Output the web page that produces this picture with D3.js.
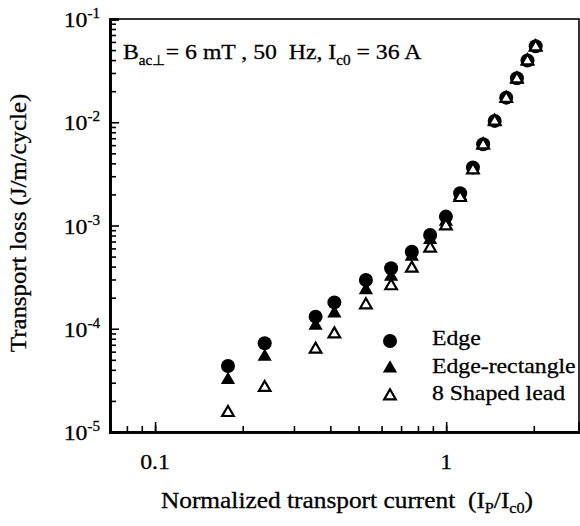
<!DOCTYPE html>
<html>
<head>
<meta charset="utf-8">
<script src="https://d3js.org/d3.v7.min.js"></script>
<style>
  body { margin: 0; background: #fff; }
  svg { display: block; }
  text { font-family: "Liberation Serif", "Times New Roman", serif; fill: #000; stroke: #000; stroke-width: 0.3px; }
</style>
</head>
<body>
<svg></svg>
<script>
let width = 580, height = 526;

// normalized transport current Ip/Ic0
let current = [0.178, 0.238, 0.356, 0.413, 0.530, 0.647, 0.762, 0.881, 0.998,
               1.117, 1.236, 1.340, 1.468, 1.608, 1.750, 1.903, 2.03];
// transport loss (J/m/cycle)
let edge = [4.36e-5, 7.23e-5, 1.31e-4, 1.80e-4, 2.97e-4, 3.85e-4, 5.57e-4, 8.09e-4, 1.22e-3,
            2.05e-3, 3.65e-3, 6.13e-3, 1.03e-2, 1.73e-2, 2.67e-2, 3.96e-2, 5.44e-2];
let edgeRect = [3.19e-5, 5.36e-5, 1.07e-4, 1.41e-4, 2.37e-4, 3.19e-4, 4.99e-4, 7.24e-4, 1.09e-3,
                1.94e-3, 3.45e-3, 5.96e-3, 1.00e-2, 1.68e-2, 2.59e-2, 3.88e-2, 5.30e-2];
let shaped8 = [1.54e-5, 2.69e-5, 6.32e-5, 8.89e-5, 1.70e-4, 2.60e-4, 3.85e-4, 6.02e-4, 9.89e-4,
               1.86e-3, 3.45e-3, 6.02e-3, 1.02e-2, 1.70e-2, 2.62e-2, 3.92e-2, 5.36e-2];

let seriesNames = ["Edge", "Edge-rectangle", "8 Shaped lead"];
let xTicks = [0.08, 0.09, 0.1, 0.2, 0.3, 0.4, 0.5, 0.6, 0.7, 0.8, 0.9, 1, 2];
let xTickLabels = ["0.1", "1"];
let yExponents = [-5, -4, -3, -2, -1];

let x = d3.scaleLog().domain([0.07, 2.86]).range([110, 579]);
let y = d3.scaleLog().domain([1e-5, 1e-1]).range([432, 19]);

let svg = d3.select("svg")
  .attr("width", width)
  .attr("height", height);

// text is a bit wider than the font in the scanned figure
let sx = 1.08;
function label(px, py, anchor, size) {
  return svg.append("text")
    .attr("transform", `translate(${px},${py}) scale(${sx},1)`)
    .attr("text-anchor", anchor)
    .style("font-size", size + "px");
}

//frame
svg.append("rect")
  .attr("x", x.range()[0]).attr("y", y.range()[1])
  .attr("width", x.range()[1] - x.range()[0])
  .attr("height", y.range()[0] - y.range()[1])
  .attr("fill", "none").attr("stroke", "#000").attr("stroke-width", 1.6);

//y ticks (inside)
let yMinor = [];
yExponents.forEach(e => {
  if (e < -1) for (let k = 2; k <= 9; k++) yMinor.push(k * Math.pow(10, e));
});
svg.append("g")
  .attr("transform", `translate(${x.range()[0]},0)`)
  .call(d3.axisRight(y).tickValues(yMinor).tickSize(6).tickFormat(""));
svg.append("g")
  .attr("transform", `translate(${x.range()[0]},0)`)
  .call(d3.axisRight(y).tickValues(yExponents.map(e => Math.pow(10, e))).tickSize(9).tickFormat(""));

//x ticks (inside)
svg.append("g")
  .attr("transform", `translate(0,${y.range()[0]})`)
  .call(d3.axisTop(x).tickValues(xTicks).tickSize(6).tickFormat(""));
svg.append("g")
  .attr("transform", `translate(0,${y.range()[0]})`)
  .call(d3.axisTop(x).tickValues(xTickLabels.map(Number)).tickSize(10).tickFormat(""));

svg.selectAll(".domain").attr("stroke-width", 2.6);
svg.selectAll(".tick line").attr("stroke-width", 1.6);

//y tick labels 10^n
yExponents.forEach(e => {
  let t = label(100, y(Math.pow(10, e)) + 8, "end", 22);
  t.append("tspan").text("10");
  t.append("tspan").attr("dy", -9).style("font-size", "14px").text(e);
});

xTickLabels.forEach(v => {
  label(x(+v), 469, "middle", 22).text(v);
});

//axis titles
let xt = label(347, 508, "middle", 23.5);
xt.append("tspan").text("Normalized transport current\u00a0\u00a0(I");
xt.append("tspan").attr("dy", 5).style("font-size", "15px").text("P");
xt.append("tspan").attr("dy", -5).text("/I");
xt.append("tspan").attr("dy", 5).style("font-size", "15px").text("c0");
xt.append("tspan").attr("dy", -5).text(")");

svg.append("text")
  .attr("transform", `translate(26,223) rotate(-90) scale(${sx},1)`)
  .attr("text-anchor", "middle")
  .style("font-size", "23px")
  .text("Transport loss (J/m/cycle)");

//condition note
let note = label(123, 59, "start", 22);
note.append("tspan").text("B");
note.append("tspan").attr("dy", 6).style("font-size", "14px").text("ac\u22a5");
note.append("tspan").attr("dy", -6).text("= 6 mT , 50\u00a0\u00a0Hz, I");
note.append("tspan").attr("dy", 6).style("font-size", "14px").text("c0");
note.append("tspan").attr("dy", -6).text(" = 36 A");

//markers
let triFilled = d3.symbol().type(d3.symbolTriangle).size(88);
let triOpen = d3.symbol().type(d3.symbolTriangle).size(58);

let markers = [
  (g, px, py) => g.append("circle").attr("cx", px).attr("cy", py).attr("r", 7).attr("fill", "#000"),
  (g, px, py) => g.append("path").attr("d", triFilled()).attr("transform", `translate(${px},${py})`).attr("fill", "#000"),
  (g, px, py) => g.append("path").attr("d", triOpen()).attr("transform", `translate(${px},${py})`)
                  .attr("fill", "#fff").attr("stroke", "#000").attr("stroke-width", 2.2)
];

let points = svg.append("g");
[edge, edgeRect, shaped8].forEach((series, i) => {
  series.forEach((v, j) => markers[i](points, x(current[j]), y(v)));
});

//legend
seriesNames.forEach((name, i) => {
  markers[i](svg, 390, 341 + i * 27.5);
  label(432, 345 + i * 27.5, "start", 22).text(name);
});
</script>
</body>
</html>
